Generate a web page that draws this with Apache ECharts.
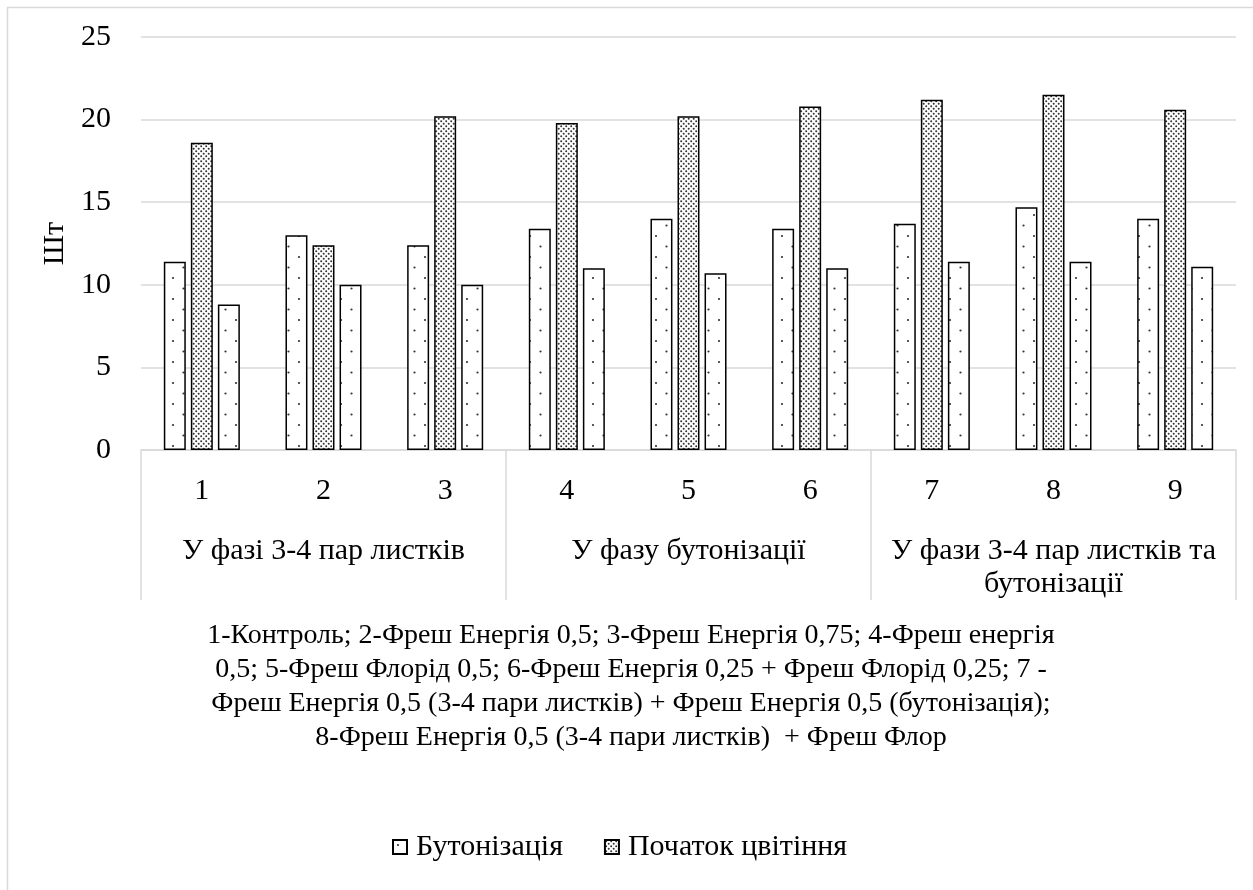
<!DOCTYPE html>
<html>
<head>
<meta charset="utf-8">
<script src="https://cdn.jsdelivr.net/npm/echarts@6/dist/echarts.min.js"></script>
<style>
  html, body { margin: 0; padding: 0; background: #fff; }
  #chart { width: 1253px; height: 890px; }
</style>
</head>
<body>
<div id="chart"></div>
<script>
// Variants 1–9 and the three application phases
const variants = ['1', '2', '3', '4', '5', '6', '7', '8', '9'];
const phases = ['У фазі 3-4 пар листків', 'У фазу бутонізації', 'У фази 3-4 пар листків та бутонізації'];

// Number of buds / flowers, pcs
const budding = [11.4, 13.0, 12.4, 13.4, 14.0, 13.4, 13.7, 14.7, 14.0];
const floweringStart = [18.6, 12.4, 20.2, 19.8, 20.2, 20.8, 21.2, 21.5, 20.6];
const series3 = [8.8, 10.0, 10.0, 11.0, 10.7, 11.0, 11.4, 11.4, 11.1];

const yTicks = { min: 0, max: 25, interval: 5 };

const captionLines = [
  '1-Контроль; 2-Фреш Енергія 0,5; 3-Фреш Енергія 0,75; 4-Фреш енергія',
  '0,5; 5-Фреш Флорід 0,5; 6-Фреш Енергія 0,25 + Фреш Флорід 0,25; 7 -',
  'Фреш Енергія 0,5 (3-4 пари листків) + Фреш Енергія 0,5 (бутонізація);',
  '8-Фреш Енергія 0,5 (3-4 пари листків)  + Фреш Флор'
];

const FONT = "'Liberation Serif', 'Times New Roman', serif";
const GRID_COLOR = '#d9d9d9';

// Dotted fill tiles
function dotTile(size, dots, r, color) {
  const c = document.createElement('canvas');
  c.width = size; c.height = size;
  const ctx = c.getContext('2d');
  ctx.fillStyle = '#ffffff';
  ctx.fillRect(0, 0, size, size);
  ctx.fillStyle = color;
  dots.forEach(([x, y]) => {
    ctx.beginPath();
    ctx.arc(x, y, r, 0, Math.PI * 2);
    ctx.fill();
  });
  return c;
}
const sparseDots = dotTile(21, [[5, 5], [15.5, 15.5]], 1.1, '#333');
const denseDots = dotTile(5, [[1.2, 1.2], [3.7, 3.7]], 1.0, '#333');

// Long phase names go onto two lines, breaking before the last word
function phaseLabel(value) {
  if (value.length <= 30) return value;
  const cut = value.lastIndexOf(' ');
  return value.slice(0, cut) + '\n' + value.slice(cut + 1);
}

const chart = echarts.init(document.getElementById('chart'), null, { renderer: 'canvas' });

const barBase = {
  type: 'bar',
  xAxisIndex: 0,
  barGap: '23%',
  barCategoryGap: '37.5%'
};

chart.setOption({
  backgroundColor: '#ffffff',
  animation: false,
  textStyle: { fontFamily: FONT, color: '#000' },
  title: {
    text: captionLines.join('\n'),
    left: 626,
    top: 614,
    textAlign: 'center',
    textStyle: { fontFamily: FONT, fontSize: 28, fontWeight: 'normal', color: '#000', lineHeight: 34 }
  },
  legend: {
    data: ['Бутонізація', 'Початок цвітіння'],
    top: 827,
    left: 387,
    itemWidth: 14,
    itemHeight: 14,
    itemGap: 41,
    icon: 'rect',
    textStyle: { fontFamily: FONT, fontSize: 30, color: '#000', padding: [0, 0, 0, 4] }
  },
  grid: { left: 141, right: 17, top: 37, bottom: 440, containLabel: false },
  xAxis: [
    {
      type: 'category',
      data: variants,
      position: 'bottom',
      axisLine: { show: true, lineStyle: { color: GRID_COLOR, width: 1.5 } },
      axisTick: { show: false },
      axisLabel: { fontFamily: FONT, fontSize: 30, color: '#000', margin: 26, interval: 0 }
    },
    {
      type: 'category',
      data: phases,
      position: 'bottom',
      axisLine: { show: false },
      axisTick: { show: true, length: 150, interval: 0, lineStyle: { color: GRID_COLOR, width: 1.5 } },
      axisLabel: {
        fontFamily: FONT, fontSize: 30, color: '#000', margin: 85, interval: 0,
        lineHeight: 33, align: 'center', formatter: phaseLabel
      }
    }
  ],
  yAxis: {
    type: 'value',
    min: yTicks.min,
    max: yTicks.max,
    interval: yTicks.interval,
    name: 'Шт',
    nameLocation: 'middle',
    nameGap: 68,
    nameRotate: 90,
    nameTextStyle: { fontFamily: FONT, fontSize: 30, color: '#000' },
    axisLine: { show: false },
    axisTick: { show: false },
    axisLabel: { fontFamily: FONT, fontSize: 30, color: '#000', margin: 30 },
    splitLine: { lineStyle: { color: GRID_COLOR, width: 1.5 } }
  },
  graphic: [
    {
      type: 'rect',
      shape: { x: 7.5, y: 7.5, width: 1400, height: 1000 },
      style: { fill: 'none', stroke: GRID_COLOR, lineWidth: 1.5 },
      silent: true,
      z: -1
    }
  ],
  series: [
    Object.assign({}, barBase, {
      name: 'Бутонізація',
      data: budding,
      itemStyle: { color: { image: sparseDots, repeat: 'repeat' }, borderColor: '#000', borderWidth: 1.5 }
    }),
    Object.assign({}, barBase, {
      name: 'Початок цвітіння',
      data: floweringStart,
      itemStyle: { color: { image: denseDots, repeat: 'repeat' }, borderColor: '#000', borderWidth: 1.5 }
    }),
    Object.assign({}, barBase, {
      name: 'Ряд 3',
      data: series3,
      itemStyle: { color: { image: sparseDots, repeat: 'repeat' }, borderColor: '#000', borderWidth: 1.5 }
    })
  ]
});
</script>
</body>
</html>
